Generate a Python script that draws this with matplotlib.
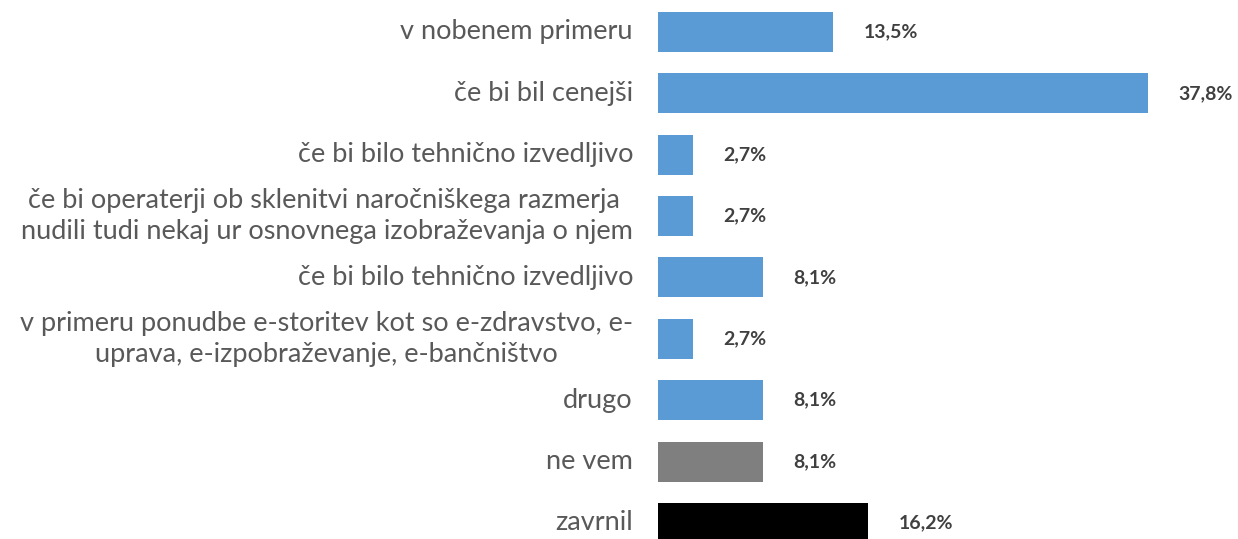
import matplotlib
matplotlib.use("Agg")
import matplotlib.pyplot as plt

categories = [
    "v nobenem primeru",
    "če bi bil cenejši",
    "če bi bilo tehnično izvedljivo",
    "če bi operaterji ob sklenitvi naročniškega razmerja \nnudili tudi nekaj ur osnovnega izobraževanja o njem",
    "če bi bilo tehnično izvedljivo",
    "v primeru ponudbe e-storitev kot so e-zdravstvo, e-\nuprava, e-izpobraževanje, e-bančništvo",
    "drugo",
    "ne vem",
    "zavrnil",
]
values = [13.5, 37.8, 2.7, 2.7, 8.1, 2.7, 8.1, 8.1, 16.2]
value_labels = ["13,5%", "37,8%", "2,7%", "2,7%", "8,1%", "2,7%", "8,1%", "8,1%", "16,2%"]
colors = ["#5B9BD5"] * 7 + ["#7F7F7F", "#000000"]

W, H = 1238, 539
fig = plt.figure(figsize=(W / 100, H / 100), dpi=100)
ax = fig.add_axes([658 / W, 0, 1 - 658 / W, 1])

pitch = 61.375
ys = list(range(len(values)))
ax.barh(ys, values, height=40 / pitch, color=colors, edgecolor="none")
ax.set_ylim(8 + 16 / pitch, -32 / pitch)
ax.set_xlim(0, (W - 658) / 12.963)
ax.axis("off")

for y, v, lab, cat in zip(ys, values, value_labels, categories):
    ax.annotate(lab, (v, y), xytext=(22, 0), textcoords="offset points",
                ha="left", va="center", fontsize=14, fontweight="bold",
                color="#404040", family="Lato")
    ax.annotate(cat, (0, y), xytext=(-18, 0), textcoords="offset points",
                ha="right", va="center", multialignment="center",
                fontsize=19.5, color="#595959", family="Lato",
                linespacing=1.3, annotation_clip=False)

fig.savefig("out.png", dpi=100)
